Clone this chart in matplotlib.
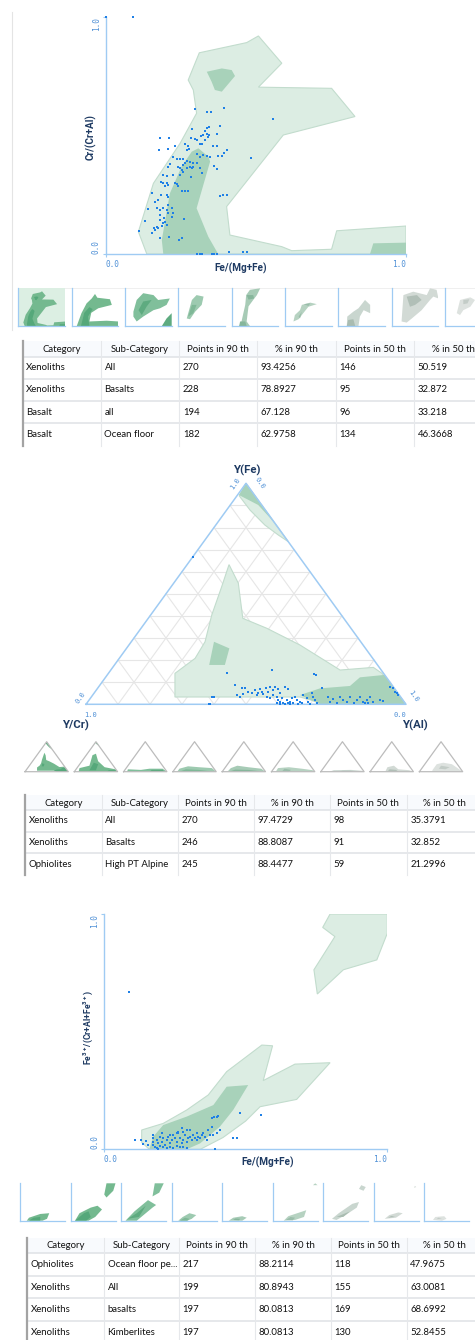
import matplotlib.pyplot as plt
from matplotlib.patches import Polygon, Rectangle

plt.rcParams['mathtext.default'] = 'regular'

# ---------------- data ----------------
# Cr/(Cr+Al) vs Fe/(Mg+Fe): 90th (outer) and 50th (inner) percentile fields
p1_outer = [(0.311, 0.849), (0.469, 0.892), (0.508, 0.920), (0.586, 0.805), (0.508, 0.704),
            (0.752, 0.699), (0.830, 0.580), (0.591, 0.502), (0.402, 0.200), (0.413, 0.080),
            (0.586, 0.031), (0.619, 0.014), (0.752, 0.020), (0.769, 0.098), (1.0, 0.118),
            (1.0, 0.0), (0.136, 0.0), (0.108, 0.094), (0.158, 0.298), (0.247, 0.467),
            (0.302, 0.594), (0.291, 0.692), (0.274, 0.734)]
p1_inner = [
    [(0.308, 0.446), (0.341, 0.411), (0.347, 0.390), (0.302, 0.193), (0.341, 0.073),
     (0.374, 0.0), (0.191, 0.0), (0.186, 0.059), (0.213, 0.256), (0.252, 0.369), (0.286, 0.432)],
    [(0.336, 0.769), (0.386, 0.783), (0.419, 0.776), (0.430, 0.751), (0.386, 0.685),
     (0.363, 0.692), (0.352, 0.727)],
    [(0.891, 0.045), (1.0, 0.048), (1.0, 0.0), (0.88, 0.0)],
]
p1_x = [0.0, 0.091, 0.297, 0.336, 0.349, 0.394, 0.556, 0.380, 0.336, 0.342, 0.330, 0.286,
        0.316, 0.324, 0.336, 0.342, 0.181, 0.211, 0.370, 0.282, 0.297, 0.302, 0.263, 0.272,
        0.313, 0.320, 0.331, 0.341, 0.231, 0.208, 0.176, 0.356, 0.371, 0.402, 0.393, 0.269,
        0.277, 0.302, 0.313, 0.324, 0.336, 0.374, 0.386, 0.347, 0.222, 0.482, 0.236, 0.247,
        0.258, 0.269, 0.280, 0.291, 0.302, 0.263, 0.256, 0.213, 0.208, 0.360, 0.371, 0.241,
        0.247, 0.252, 0.258, 0.269, 0.280, 0.286, 0.291, 0.313, 0.319, 0.189, 0.202, 0.224,
        0.247, 0.282, 0.182, 0.191, 0.202, 0.208, 0.197, 0.230, 0.236, 0.241, 0.252, 0.263,
        0.274, 0.152, 0.182, 0.202, 0.208, 0.380, 0.391, 0.402, 0.163, 0.174, 0.208, 0.141,
        0.169, 0.180, 0.191, 0.202, 0.208, 0.219, 0.224, 0.219, 0.180, 0.193, 0.130, 0.180,
        0.191, 0.202, 0.186, 0.169, 0.160, 0.197, 0.261, 0.111, 0.152, 0.163, 0.174, 0.180,
        0.211, 0.243, 0.252, 0.302, 0.313, 0.321, 0.352, 0.361, 0.371, 0.411, 0.458, 0.471]
p1_y = [1.0, 1.0, 0.611, 0.598, 0.601, 0.615, 0.570, 0.538, 0.532, 0.535, 0.521, 0.528,
        0.497, 0.501, 0.508, 0.503, 0.490, 0.489, 0.508, 0.489, 0.487, 0.483, 0.466, 0.455,
        0.463, 0.466, 0.480, 0.494, 0.456, 0.441, 0.438, 0.456, 0.455, 0.438, 0.428, 0.438,
        0.441, 0.421, 0.410, 0.417, 0.413, 0.414, 0.413, 0.410, 0.410, 0.403, 0.402, 0.399,
        0.399, 0.393, 0.389, 0.385, 0.382, 0.382, 0.375, 0.378, 0.368, 0.371, 0.360, 0.368,
        0.361, 0.354, 0.347, 0.361, 0.368, 0.361, 0.368, 0.361, 0.343, 0.333, 0.329, 0.333,
        0.333, 0.326, 0.305, 0.301, 0.298, 0.291, 0.287, 0.301, 0.294, 0.287, 0.267, 0.267,
        0.267, 0.258, 0.249, 0.249, 0.239, 0.246, 0.249, 0.251, 0.221, 0.228, 0.206, 0.188,
        0.192, 0.185, 0.192, 0.185, 0.171, 0.192, 0.171, 0.157, 0.164, 0.154, 0.139, 0.143,
        0.129, 0.122, 0.118, 0.115, 0.108, 0.136, 0.149, 0.098, 0.090, 0.101, 0.108, 0.069,
        0.070, 0.059, 0.066, 0.0, 0.0, 0.0, 0.0, 0.0, 0.0, 0.007, 0.007, 0.007]

# ternary Y(Fe) / Y(Cr) / Y(Al), in triangle plane coordinates (apex at 0.5, 1)
tern_outer = [
    [(0.5, 1.0), (0.632, 0.736), (0.601, 0.766), (0.559, 0.811), (0.5125, 0.879), (0.479, 0.943)],
    [(0.447, 0.632), (0.476, 0.548), (0.490, 0.389), (0.565, 0.344), (0.669, 0.268),
     (0.794, 0.155), (0.898, 0.167), (0.925, 0.140), (1.0, 0.0), (0.75, 0.0), (0.669, 0.033),
     (0.278, 0.033), (0.278, 0.140), (0.341, 0.208), (0.372, 0.283), (0.393, 0.404), (0.424, 0.532)],
]
tern_inner = [
    [(0.5, 1.0), (0.59, 0.82), (0.538, 0.902), (0.478, 0.947)],
    [(0.400, 0.283), (0.448, 0.253), (0.434, 0.178), (0.385, 0.178)],
    [(0.669, 0.042), (0.731, 0.072), (0.825, 0.083), (0.856, 0.122), (0.933, 0.133),
     (0.9525, 0.095), (1.0, 0.0), (0.731, 0.0)],
]
tern_x = [0.393, 0.401, 0.440, 0.580, 0.713, 0.719, 0.466, 0.486, 0.497, 0.471, 0.481, 0.492,
          0.507, 0.518, 0.528, 0.533, 0.539, 0.544, 0.549, 0.554, 0.563, 0.570, 0.575, 0.585,
          0.591, 0.601, 0.606, 0.622, 0.632, 0.565, 0.575, 0.585, 0.596, 0.601, 0.606, 0.611,
          0.617, 0.627, 0.632, 0.637, 0.643, 0.648, 0.653, 0.658, 0.664, 0.669, 0.674, 0.679,
          0.690, 0.695, 0.700, 0.705, 0.710, 0.716, 0.721, 0.596, 0.606, 0.622, 0.637, 0.737,
          0.757, 0.763, 0.773, 0.783, 0.794, 0.804, 0.815, 0.825, 0.836, 0.846, 0.856, 0.867,
          0.872, 0.877, 0.882, 0.888, 0.898, 0.919, 0.929, 0.950, 0.960, 0.966, 0.973, 0.976,
          0.388, 0.333, 0.383]
tern_y = [0.032, 0.035, 0.143, 0.155, 0.137, 0.131, 0.087, 0.072, 0.072, 0.042, 0.035, 0.047,
          0.057, 0.050, 0.065, 0.042, 0.053, 0.068, 0.057, 0.047, 0.072, 0.057, 0.077, 0.065,
          0.080, 0.068, 0.053, 0.077, 0.068, 0.035, 0.027, 0.042, 0.032, 0.020, 0.012, 0.027,
          0.004, 0.020, 0.004, 0.012, 0.027, 0.004, 0.035, 0.020, 0.002, 0.012, 0.004, 0.042,
          0.027, 0.012, 0.002, 0.050, 0.035, 0.020, 0.004, 0.004, 0.0, 0.0, 0.0, 0.072,
          0.035, 0.012, 0.023, 0.004, 0.035, 0.020, 0.012, 0.035, 0.004, 0.020, 0.035, 0.012,
          0.004, 0.020, 0.004, 0.035, 0.012, 0.020, 0.016, 0.080, 0.072, 0.057, 0.050, 0.042,
          0.0, 0.668, 0.0]

# Fe3+/(Cr+Al+Fe3+) vs Fe/(Mg+Fe)
p3_outer = [
    [(0.133, 0.082), (0.209, 0.110), (0.292, 0.167), (0.368, 0.231), (0.433, 0.330),
     (0.557, 0.443), (0.595, 0.440), (0.562, 0.292), (0.674, 0.362), (0.798, 0.368),
     (0.680, 0.212), (0.551, 0.181), (0.500, 0.120), (0.420, 0.050), (0.340, 0.0),
     (0.160, 0.0), (0.133, 0.030)],
    [(0.798, 1.0), (1.0, 1.0), (1.0, 0.918), (0.963, 0.805), (0.845, 0.763), (0.753, 0.660),
     (0.741, 0.763), (0.815, 0.904), (0.772, 0.943)],
]
p3_inner = [
    [(0.174, 0.054), (0.209, 0.103), (0.292, 0.139), (0.386, 0.188), (0.433, 0.266),
     (0.509, 0.273), (0.456, 0.167), (0.409, 0.096), (0.339, 0.025), (0.292, 0.0), (0.160, 0.0)],
]
p3_x = [0.089, 0.109, 0.129, 0.148, 0.139, 0.157, 0.174, 0.174, 0.174, 0.174, 0.180, 0.186,
        0.192, 0.198, 0.204, 0.209, 0.215, 0.221, 0.227, 0.233, 0.239, 0.245, 0.251, 0.257,
        0.262, 0.268, 0.274, 0.280, 0.286, 0.292, 0.298, 0.304, 0.309, 0.315, 0.321, 0.327,
        0.333, 0.339, 0.345, 0.351, 0.356, 0.362, 0.368, 0.374, 0.380, 0.386, 0.398, 0.409,
        0.304, 0.280, 0.257, 0.233, 0.204, 0.180, 0.186, 0.192, 0.198, 0.209, 0.221, 0.233,
        0.245, 0.257, 0.268, 0.280, 0.292, 0.380, 0.389, 0.398, 0.404, 0.480, 0.554, 0.457,
        0.468, 0.392, 0.262, 0.274, 0.292, 0.327]
p3_y = [0.670, 0.040, 0.040, 0.037, 0.023, 0.018, 0.061, 0.047, 0.032, 0.018, 0.011, 0.040,
        0.025, 0.054, 0.032, 0.047, 0.018, 0.040, 0.054, 0.025, 0.040, 0.061, 0.047, 0.032,
        0.068, 0.047, 0.025, 0.040, 0.061, 0.032, 0.047, 0.054, 0.040, 0.061, 0.047, 0.040,
        0.054, 0.047, 0.061, 0.068, 0.054, 0.040, 0.082, 0.061, 0.096, 0.061, 0.068, 0.082,
        0.082, 0.075, 0.068, 0.061, 0.068, 0.008, 0.004, 0.0, 0.014, 0.008, 0.004, 0.011,
        0.004, 0.014, 0.008, 0.011, 0.004, 0.134, 0.136, 0.139, 0.142, 0.156, 0.146, 0.049,
        0.049, 0.0, 0.075, 0.089, 0.082, 0.068]

# small preview fields: (light, dark) polygons per category
thumbs1 = [
    ([p1_outer], p1_inner),
    ([[(0.11, 0), (0.21, 0.34), (0.32, 0.6), (0.43, 0.73), (0.5, 0.85), (0.55, 0.75), (0.82, 0.71),
       (0.86, 0.56), (0.57, 0.47), (0.42, 0.35), (0.38, 0.12), (0.75, 0.14), (1, 0.12), (1, 0)]],
     [[(0.2, 0.0), (0.27, 0.35), (0.38, 0.5), (0.45, 0.45), (0.35, 0.25), (0.38, 0.0)]]),
    ([[(0.18, 0.38), (0.25, 0.69), (0.39, 0.87), (0.61, 0.82), (0.71, 0.69), (0.96, 0.73),
       (0.89, 0.56), (0.75, 0.47), (0.61, 0.42), (0.39, 0.25), (0.25, 0.12), (0.18, 0.25)]],
     [[(0.29, 0.42), (0.39, 0.65), (0.57, 0.69), (0.46, 0.51), (0.36, 0.29)],
      [(0.79, 0), (0.89, 0.2), (1, 0.34), (1, 0)]]),
    ([[(0.18, 0.2), (0.29, 0.69), (0.39, 0.82), (0.54, 0.78), (0.5, 0.56), (0.36, 0.38), (0.25, 0.18)]],
     [[(0.21, 0.25), (0.29, 0.56), (0.39, 0.56), (0.32, 0.34)]]),
    ([[(0.16, 0), (0.21, 0.12), (0.29, 0.56), (0.31, 0.82), (0.39, 0.96), (0.61, 1.0), (0.54, 0.82),
       (0.46, 0.69), (0.36, 0.52), (0.32, 0.12), (0.39, 0)]],
     [[(0.32, 0.82), (0.46, 0.82), (0.48, 0.73), (0.36, 0.7)],
      [(0.18, 0.12), (0.29, 0.12), (0.32, 0), (0.16, 0)]]),
    ([[(0.18, 0.12), (0.21, 0.29), (0.32, 0.42), (0.36, 0.56), (0.54, 0.62), (0.68, 0.58),
       (0.5, 0.51), (0.39, 0.34), (0.29, 0.18)]],
     [[(0.29, 0.25), (0.36, 0.38), (0.32, 0.2)], [(0.4, 0.58), (0.54, 0.6), (0.5, 0.53)]]),
    ([[(0.18, 0), (0.19, 0.25), (0.32, 0.38), (0.43, 0.47), (0.57, 0.69), (0.68, 0.56),
       (0.68, 0.34), (0.54, 0.42), (0.46, 0.25), (0.43, 0)]],
     [[(0.18, 0), (0.21, 0.16), (0.32, 0.18), (0.36, 0)]]),
    ([[(0.21, 0.12), (0.25, 0.82), (0.46, 0.91), (0.75, 0.82), (0.82, 1.0), (0.96, 0.96), (1.0, 0.73),
       (0.89, 0.78), (0.82, 0.69), (0.64, 0.42), (0.43, 0.2), (0.32, 0.09)]],
     [[(0.32, 0.78), (0.54, 0.82), (0.64, 0.69), (0.5, 0.56), (0.39, 0.51)]]),
    ([[(0.25, 0.34), (0.32, 0.69), (0.54, 0.76), (0.64, 0.69), (0.54, 0.51), (0.39, 0.42), (0.32, 0.29)]],
     [[(0.39, 0.69), (0.52, 0.71), (0.48, 0.6), (0.39, 0.58)]]),
]
thumbs2 = [
    (tern_outer, tern_inner),
    ([[(0.1, 0.0), (0.12, 0.12), (0.35, 0.2), (0.42, 0.55), (0.5, 0.6), (0.55, 0.35), (0.7, 0.15),
       (0.95, 0.08), (1, 0)], [(0.48, 0.96), (0.5, 1), (0.58, 0.85), (0.53, 0.9)]],
     [[(0.35, 0.05), (0.45, 0.3), (0.55, 0.25), (0.5, 0.05)], [(0.75, 0.0), (0.8, 0.05), (0.95, 0.05), (0.98, 0)]]),
    ([[(0.08, 0), (0.1, 0.08), (0.4, 0.06), (0.6, 0.1), (0.9, 0.1), (1, 0)]],
     [[(0.6, 0), (0.65, 0.06), (0.9, 0.06), (0.95, 0)]]),
    ([[(0.1, 0), (0.15, 0.1), (0.35, 0.18), (0.6, 0.15), (0.9, 0.12), (1, 0)]],
     [[(0.15, 0), (0.3, 0.08), (0.6, 0.06), (0.95, 0)]]),
    ([[(0.12, 0), (0.2, 0.12), (0.35, 0.2), (0.6, 0.15), (0.9, 0.1), (1, 0)]],
     [[(0.2, 0.02), (0.3, 0.07), (0.6, 0.06), (0.85, 0.02)]]),
    ([[(0.1, 0), (0.15, 0.12), (0.4, 0.15), (0.7, 0.1), (0.95, 0.05), (1, 0)]],
     [[(0.25, 0.02), (0.3, 0.1), (0.45, 0.06), (0.4, 0)]]),
    ([[(0.2, 0), (0.3, 0.05), (0.7, 0.06), (0.95, 0.03), (1, 0)]],
     [[(0.45, 0), (0.5, 0.03), (0.7, 0.03), (0.75, 0)]]),
    ([[(0.35, 0), (0.4, 0.15), (0.55, 0.2), (0.65, 0.08), (0.9, 0.05), (1, 0)]],
     [[(0.4, 0), (0.45, 0.08), (0.6, 0.06), (0.65, 0)]]),
    ([[(0.3, 0.05), (0.4, 0.25), (0.55, 0.3), (0.75, 0.25), (0.95, 0.05), (1, 0), (0.3, 0)]],
     [[(0.45, 0.1), (0.5, 0.2), (0.7, 0.15), (0.6, 0.08)]]),
]
thumbs3 = [
    ([[(0.15, 0.0), (0.2, 0.08), (0.45, 0.18), (0.65, 0.2), (0.6, 0.05), (0.5, 0)]],
     [[(0.2, 0.0), (0.3, 0.08), (0.45, 0.1), (0.45, 0)]]),
    ([[(0.1, 0.0), (0.2, 0.2), (0.45, 0.35), (0.6, 0.4), (0.7, 0.3), (0.55, 0.1), (0.4, 0)],
      [(0.75, 0.7), (0.8, 1.0), (1, 1.0), (0.95, 0.8), (0.8, 0.62)]],
     [[(0.1, 0), (0.3, 0.2), (0.4, 0.25), (0.45, 0.1), (0.35, 0)]]),
    ([[(0.1, 0), (0.3, 0.25), (0.6, 0.55), (0.78, 0.42), (0.7, 0.35), (0.5, 0.15), (0.35, 0)],
      [(0.7, 0.65), (0.75, 1.0), (0.95, 1.0), (0.85, 0.75)]],
     [[(0.15, 0.05), (0.35, 0.2), (0.55, 0.4), (0.4, 0.1)]]),
    ([[(0.15, 0), (0.25, 0.1), (0.4, 0.2), (0.55, 0.15), (0.45, 0.05), (0.35, 0)]],
     [[(0.18, 0), (0.3, 0.08), (0.4, 0.05), (0.35, 0)]]),
    ([[(0.15, 0), (0.25, 0.08), (0.45, 0.12), (0.55, 0.08), (0.45, 0)]],
     [[(0.25, 0.02), (0.3, 0.06), (0.4, 0.05), (0.38, 0.01)]]),
    ([[(0.25, 0.0), (0.35, 0.12), (0.55, 0.2), (0.75, 0.28), (0.7, 0.1), (0.5, 0.02)],
      [(0.9, 0.95), (0.95, 1), (1, 0.95)]],
     [[(0.3, 0.02), (0.4, 0.1), (0.5, 0.08), (0.45, 0.01)]]),
    ([[(0.2, 0.05), (0.35, 0.2), (0.65, 0.45), (0.8, 0.5), (0.75, 0.35), (0.5, 0.15), (0.3, 0.02)],
      [(0.8, 0.85), (0.85, 0.95), (0.95, 0.9), (0.9, 0.8)]],
     [[(0.3, 0.1), (0.5, 0.2), (0.6, 0.25), (0.45, 0.1)]]),
    ([[(0.25, 0.05), (0.35, 0.15), (0.55, 0.22), (0.65, 0.2), (0.5, 0.08)],
      [(0.9, 0.88), (0.92, 0.93), (0.95, 0.9)]],
     [[(0.32, 0.08), (0.4, 0.13), (0.48, 0.1)]]),
    ([[(0.2, 0.02), (0.25, 0.1), (0.45, 0.12), (0.5, 0.05), (0.4, 0.0)]],
     [[(0.28, 0.04), (0.32, 0.08), (0.4, 0.06)]]),
]
thumb_colors = [('#74b98f', '#55a87a'), ('#74b98f', '#55a87a'), ('#80bf9b', '#5eab80'),
                ('#9dcab0', '#7fb897'), ('#a7cbb6', '#86b69b'), ('#b6d2c1', '#9abdaa'),
                ('#c9d6cf', '#a9bcb1'), ('#d2dad5', '#b1bfb7'), ('#dde2df', '#c3ccc7')]

header = ['Category', 'Sub-Category', 'Points in 90 th', '% in 90 th', 'Points in 50 th', '% in 50 th']
table1 = [['Xenoliths', 'All', '270', '93.4256', '146', '50.519'],
          ['Xenoliths', 'Basalts', '228', '78.8927', '95', '32.872'],
          ['Basalt', 'all', '194', '67.128', '96', '33.218'],
          ['Basalt', 'Ocean floor', '182', '62.9758', '134', '46.3668']]
table2 = [['Xenoliths', 'All', '270', '97.4729', '98', '35.3791'],
          ['Xenoliths', 'Basalts', '246', '88.8087', '91', '32.852'],
          ['Ophiolites', 'High PT Alpine', '245', '88.4477', '59', '21.2996']]
table3 = [['Ophiolites', 'Ocean floor pe...', '217', '88.2114', '118', '47.9675'],
          ['Xenoliths', 'All', '199', '80.8943', '155', '63.0081'],
          ['Xenoliths', 'basalts', '197', '80.0813', '169', '68.6992'],
          ['Xenoliths', 'Kimberlites', '197', '80.0813', '130', '52.8455']]

# ---------------- styling ----------------
PT = '#1f80e6'
AXC = '#9fcbf3'
TICKC = '#4d8fd6'
NAVY = '#1e3a62'
F90, E90 = '#dcede3', '#c2dccd'
F50 = '#a8d2ba'
TITLE_FONT = ['Liberation Sans Narrow', 'Roboto', 'DejaVu Sans']
TABLE_FONT = ['Lato', 'DejaVu Sans']
MONO = 'DejaVu Sans Mono'

W, H = 475, 1340
fig = plt.figure(figsize=(W / 100, H / 100), dpi=100)
fig.patch.set_facecolor('white')


def px_axes(l, t, r, b, z=1):
    ax = fig.add_axes([l / W, 1 - b / H, (r - l) / W, (b - t) / H], zorder=z)
    ax.set_facecolor('none')
    return ax


ov = px_axes(0, 0, W, H, z=0)
ov.set_xlim(0, W)
ov.set_ylim(H, 0)
ov.axis('off')


def fields(ax, outer, inner, light=F90, dark=F50, edge=E90):
    for poly in outer:
        ax.add_patch(Polygon(poly, closed=True, fc=light, ec=edge, lw=0.8, zorder=1))
    for poly in inner:
        ax.add_patch(Polygon(poly, closed=True, fc=dark, ec='none', zorder=2))


def xy_frame(ax):
    ax.set_xlim(0, 1)
    ax.set_ylim(0, 1)
    for s in ['top', 'right']:
        ax.spines[s].set_visible(False)
    for s in ['left', 'bottom']:
        ax.spines[s].set_color(AXC)
        ax.spines[s].set_linewidth(1.0)
    ax.set_xticks([0, 1])
    ax.set_yticks([0, 1])
    ax.tick_params(length=2, width=0.8, color=AXC, labelleft=False, labelbottom=False)
    kw = dict(fontsize=5.6, color=TICKC, family=MONO, transform=ax.transAxes)
    ax.text(0.0, -0.045, '0.0', ha='left', va='center', **kw)
    ax.text(1.0, -0.045, '1.0', ha='right', va='center', **kw)
    ax.text(-0.032, 0.0, '0.0', ha='center', va='bottom', rotation=90, **kw)
    ax.text(-0.032, 1.0, '1.0', ha='center', va='top', rotation=90, **kw)


def thumb_frame(ax):
    ax.set_xlim(0, 1)
    ax.set_ylim(0, 1)
    ax.set_xticks([])
    ax.set_yticks([])
    for s in ['top', 'right']:
        ax.spines[s].set_visible(False)
    for s in ['left', 'bottom']:
        ax.spines[s].set_color(AXC)
        ax.spines[s].set_linewidth(0.9)


# ---------- panel 1 ----------
ax1 = px_axes(106, 17, 406, 254)
xy_frame(ax1)
fields(ax1, [p1_outer], p1_inner)
ax1.scatter(p1_x, p1_y, s=3.8, marker='s', color=PT, lw=0, zorder=3, clip_on=False)
ov.text(241, 268, 'Fe/(Mg+Fe)', ha='center', va='center', fontsize=7.2,
        fontweight='bold', color=NAVY, family=TITLE_FONT)
ov.text(91, 137, 'Cr/(Cr+Al)', ha='center', va='center', rotation=90, fontsize=7.2,
        fontweight='bold', color=NAVY, family=TITLE_FONT)
ov.plot([12, 12], [12, 330], color='#e4e4e4', lw=0.8)
ov.plot([18, 475], [288, 288], color='#ececec', lw=0.6)

# ---------- thumbnails under panel 1 ----------
for i, (outer, inner) in enumerate(thumbs1):
    l = 18.3 + i * 53.35
    tax = px_axes(l, 288.3, l + 46.7, 326)
    thumb_frame(tax)
    if i == 0:
        tax.set_facecolor('#dcefe3')
    lc, dc = thumb_colors[i]
    fields(tax, outer, inner, light=lc, dark=dc, edge='none')


def draw_table(ax, col_edges, row_edges, rows):
    x0, x1 = col_edges[0], col_edges[-1]
    ax.add_patch(Rectangle((x0, row_edges[0]), x1 - x0, row_edges[1] - row_edges[0],
                           fc='#f8fafd', ec='none', zorder=1))
    for y in row_edges[1:-1]:
        ax.plot([x0, x1], [y, y], color='#dfe2e6', lw=1.1, zorder=2)
    for x in col_edges[1:-1]:
        ax.plot([x, x], [row_edges[0], row_edges[-1]], color='#e6e8eb', lw=0.8, zorder=2)
    ax.plot([x0, x0], [row_edges[0], row_edges[-1]], color='#a3a3a3', lw=1.6, zorder=3)
    tk = dict(fontsize=6.9, color='#111111', family=TABLE_FONT, va='center', zorder=4)
    for j, h in enumerate(header):
        ax.text((col_edges[j] + col_edges[j + 1]) / 2, (row_edges[0] + row_edges[1]) / 2 + 0.5,
                h, ha='center', **tk)
    for r, row in enumerate(rows):
        yc = (row_edges[r + 1] + row_edges[r + 2]) / 2
        for j, cell in enumerate(row):
            ax.text(col_edges[j] + 3.5, yc, cell, ha='left', **tk)


draw_table(ov, [22.7, 101, 179.3, 257.3, 336, 414.3, 492],
           [341, 356.7, 379, 401, 423.3, 445.5], table1)

# ---------- ternary panel ----------
axt = px_axes(86, 483.3, 406, 704.3)
axt.set_xlim(0, 1)
axt.set_ylim(0, 1)
axt.axis('off')
for k in range(1, 10):
    t = k / 10
    g = dict(color='#e6e6e6', lw=0.8, zorder=0)
    axt.plot([t / 2, 1 - t / 2], [t, t], **g)
    axt.plot([t, t + (1 - t) / 2], [0, 1 - t], **g)
    axt.plot([t, t / 2], [0, t], **g)
fields(axt, tern_outer, tern_inner)
axt.plot([0, 1, 0.5, 0], [0, 0, 1, 0], color=AXC, lw=1.1, zorder=4, clip_on=False)
axt.scatter(tern_x, tern_y, s=4.0, marker='s', color=PT, lw=0, zorder=5, clip_on=False)
tl = dict(fontsize=5.0, color=TICKC, family=MONO, ha='center', va='center')
ov.text(235, 483.5, '1.0', rotation=55, **tl)
ov.text(259.5, 483, '0.0', rotation=-55, **tl)
ov.text(80.5, 698, '0.0', rotation=55, **tl)
ov.text(90.7, 715, '1.0', **tl)
ov.text(400, 715, '0.0', **tl)
ov.text(413.5, 696, '1.0', rotation=-55, **tl)
lab = dict(fontsize=8.2, fontweight='bold', color=NAVY, family=TITLE_FONT, ha='center', va='center')
ov.text(246.5, 470, 'Y(Fe)', **lab)
ov.text(75, 725, 'Y/Cr)', **lab)
ov.text(415, 725.5, 'Y(Al)', **lab)

for i, (outer, inner) in enumerate(thumbs2):
    l = 25 + i * 49.3
    tax = px_axes(l, 741.7, l + 43.3, 771.7)
    tax.set_xlim(0, 1)
    tax.set_ylim(0, 1)
    tax.axis('off')
    lc, dc = thumb_colors[i]
    fields(tax, outer, inner, light=lc, dark=dc, edge='none')
    tax.plot([0, 1, 0.5, 0], [0, 0, 1, 0], color='#bcbcbc', lw=0.9, clip_on=False, zorder=3)

draw_table(ov, [25, 101.7, 177.7, 254, 330, 406.7, 483],
           [795, 810, 831.7, 853.3, 875], table2)

# ---------- panel 3 ----------
ax3 = px_axes(104, 914, 387.3, 1149.3)
xy_frame(ax3)
fields(ax3, p3_outer, p3_inner)
ax3.scatter(p3_x, p3_y, s=3.6, marker='s', color=PT, lw=0, zorder=3, clip_on=False)
ov.text(268, 1162, 'Fe/(Mg+Fe)', ha='center', va='center', fontsize=7.2,
        fontweight='bold', color=NAVY, family=TITLE_FONT)
ov.text(88, 1028, r'Fe$^{3+}$/(Cr+Al+Fe$^{3+}$)', ha='center', va='center', rotation=90,
        fontsize=6.2, fontweight='bold', color=NAVY, family=TITLE_FONT)

for i, (outer, inner) in enumerate(thumbs3):
    l = 20 + i * 50.5
    tax = px_axes(l, 1183.3, l + 45, 1220.7)
    thumb_frame(tax)
    lc, dc = thumb_colors[i]
    fields(tax, outer, inner, light=lc, dark=dc, edge='none')

draw_table(ov, [27.3, 104, 179, 255, 331, 406.7, 483],
           [1238.3, 1252.7, 1275.7, 1298.3, 1320.7, 1345], table3)

fig.savefig('out.png', dpi=100, facecolor='white')
